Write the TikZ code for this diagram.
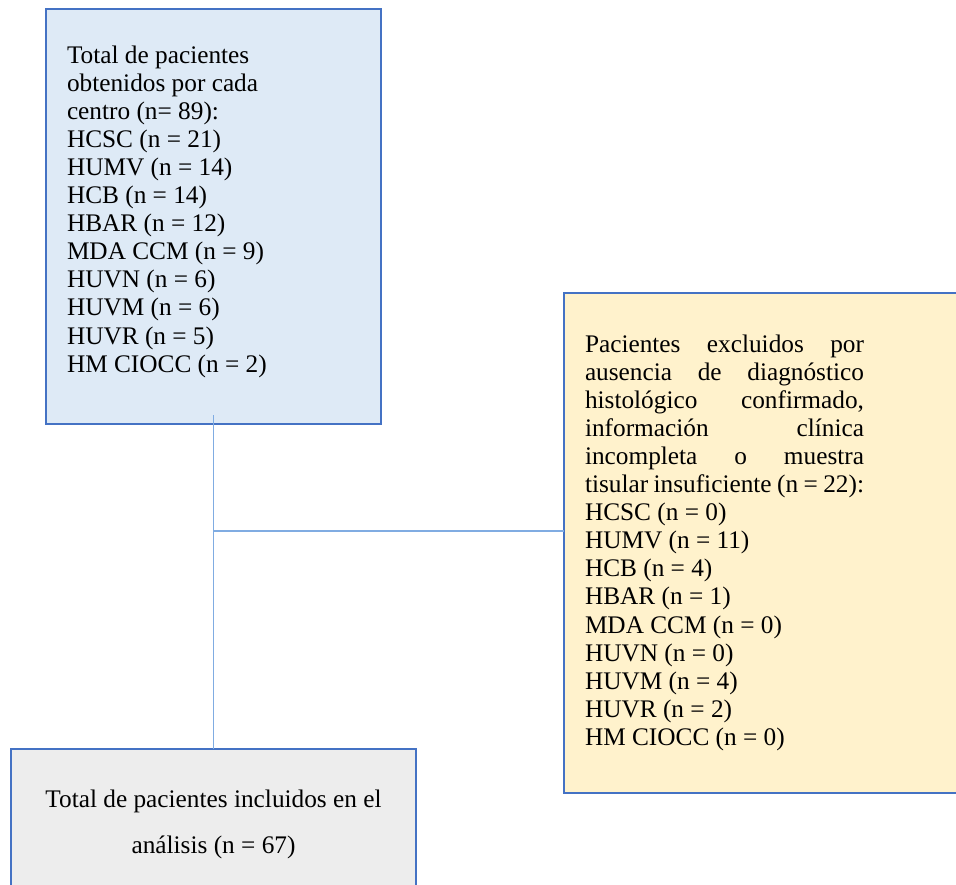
\documentclass[tikz,border=0pt]{standalone}
\usepackage{fontspec}
\setmainfont{Liberation Serif}
\definecolor{boxborder}{HTML}{4472C4}
\definecolor{conncol}{RGB}{128,172,226}
\definecolor{topfill}{HTML}{DEEAF6}
\definecolor{rightfill}{HTML}{FFF2CC}
\definecolor{botfill}{HTML}{EDEDED}
\newcommand\jline[1]{\makebox[\linewidth][s]{#1}}
\begin{document}
\begin{tikzpicture}[x=1pt,y=-1pt,
  boxnode/.style={draw=boxborder,line width=1.6pt,inner sep=0pt,outer sep=0pt,anchor=north west},
  txt/.style={inner sep=0pt,outer sep=0pt,anchor=base west,font=\fontsize{25.3}{28.1}\selectfont},
  conn/.style={draw=conncol,line width=1.5pt}]
\useasboundingbox (0,0) rectangle (956,884);
\clip (0,0) rectangle (956,884);
% boxes
\node[boxnode,fill=topfill,minimum width=335pt,minimum height=415pt] (top) at (46,9) {};
\node[boxnode,fill=rightfill,minimum width=410pt,minimum height=500pt] (excl) at (564,293) {};
\node[boxnode,fill=botfill,minimum width=405pt,minimum height=170pt] (incl) at (11,749) {};
% texts
\node[txt] (toptext) at (67,63) {\parbox[t]{300pt}{\raggedright
Total de pacientes\\
obtenidos por cada\\
centro (n= 89):\\
HCSC (n = 21)\\
HUMV (n = 14)\\
HCB (n = 14)\\
HBAR (n = 12)\\
MDA CCM (n = 9)\\
HUVN (n = 6)\\
HUVM (n = 6)\\
HUVR (n = 5)\\
HM CIOCC (n = 2)}};
\node[txt] (excltext) at (585,352) {\parbox[t]{279pt}{%
\jline{Pacientes excluidos por}\\
\jline{ausencia de diagnóstico}\\
\jline{histológico confirmado,}\\
\jline{información clínica}\\
\jline{incompleta o muestra}\\
\jline{tisular insuficiente (n = 22):}\\
HCSC (n = 0)\\
HUMV (n = 11)\\
HCB (n = 4)\\
HBAR (n = 1)\\
MDA CCM (n = 0)\\
HUVN (n = 0)\\
HUVM (n = 4)\\
HUVR (n = 2)\\
HM CIOCC (n = 0)}};
\node[txt,anchor=base] (incltext) at (213.5,807) {\parbox[t]{400pt}{\centering\fontsize{25.3}{46}\selectfont
Total de pacientes incluidos en el\\
análisis (n = 67)}};
% connectors
\coordinate (junc) at (213.5,531);
\draw[conn] ([yshift=9pt]top.south) -- (incl.north);
\draw[conn] (junc) -- (junc -| excl.west);
\end{tikzpicture}
\end{document}
